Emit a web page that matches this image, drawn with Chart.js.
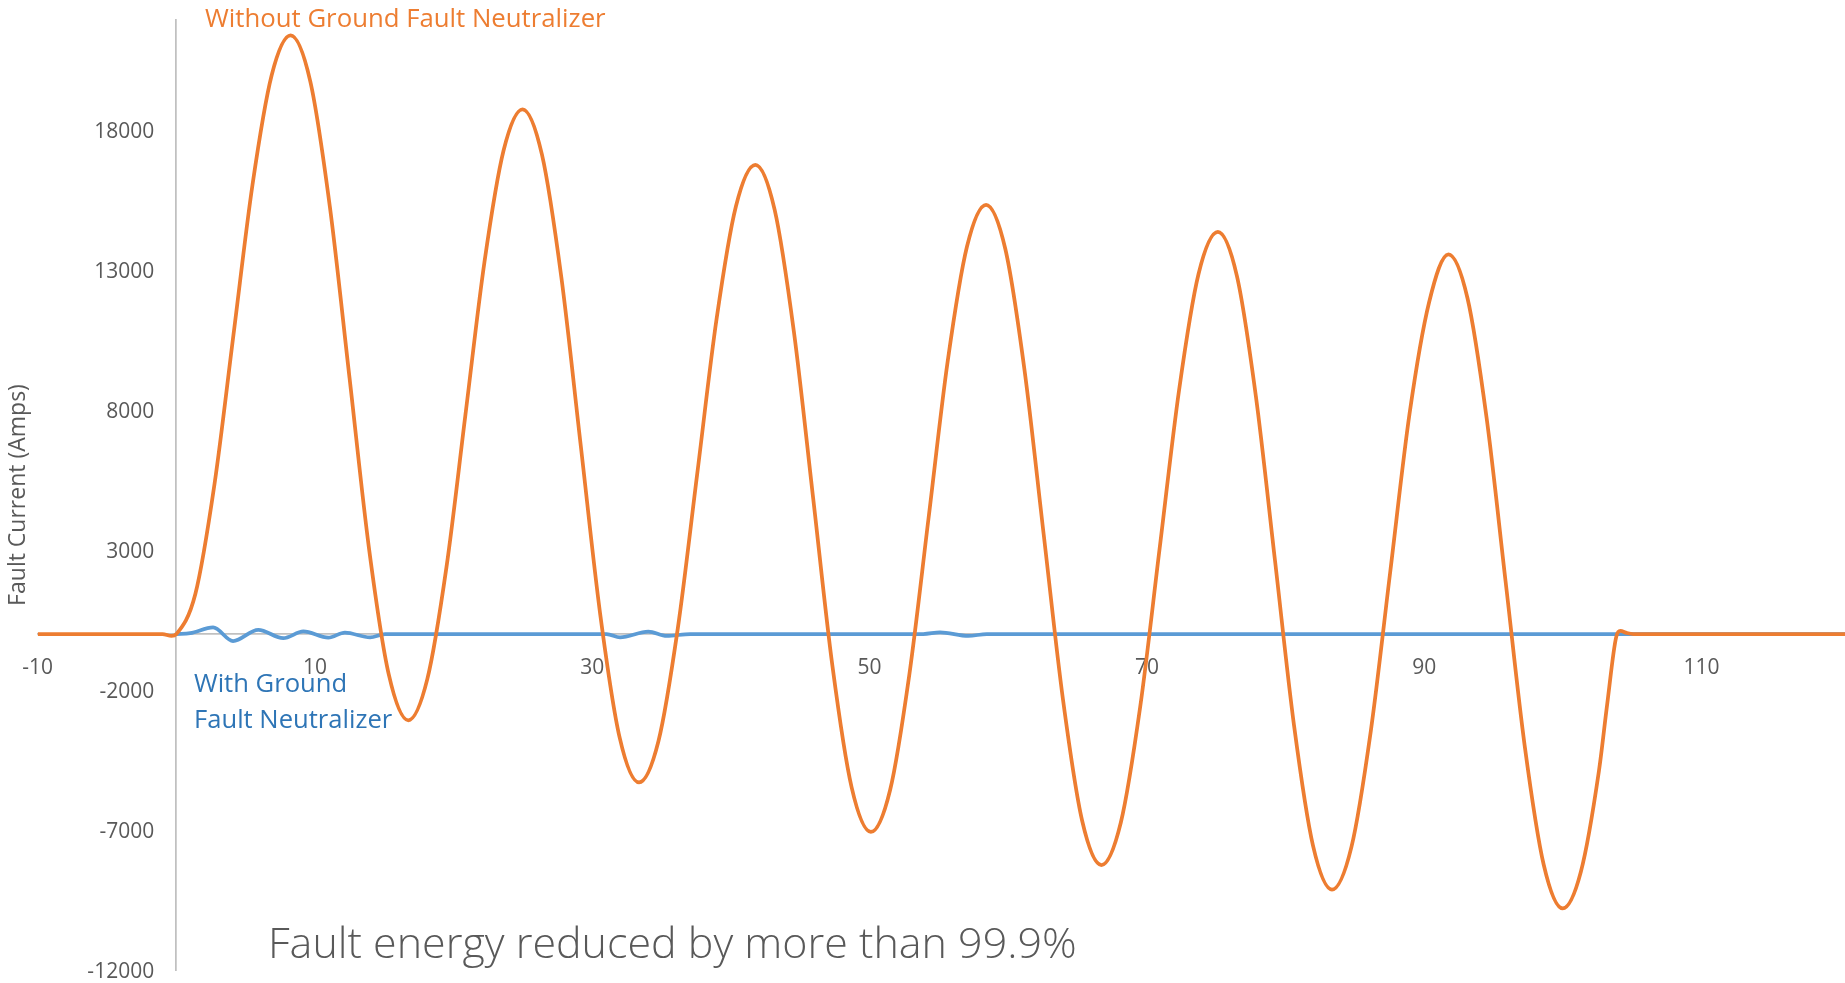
<!DOCTYPE html>
<html>
<head>
<meta charset="utf-8">
<script src="https://cdn.jsdelivr.net/npm/chart.js@4.4.1/dist/chart.umd.min.js"></script>
<style>
  html, body { margin: 0; padding: 0; background: #fff; }
  #wrap { position: relative; width: 1845px; height: 983px; overflow: hidden; }
  .note { position: absolute; font-family: 'Open Sans', sans-serif; white-space: nowrap; line-height: 1; }
  #noteWithout { left: 205px; top: 5px; font-size: 25.75px; color: #ED7D31; }
  #noteWith { left: 194px; top: 665px; font-size: 25.6px; line-height: 35.5px; color: #2E75B6; }
  #noteEnergy { left: 268px; top: 920px; font-size: 43px; font-weight: 300; color: #595959; }
</style>
</head>
<body>
<div id="wrap">
  <canvas id="chart"></canvas>
  <div class="note" id="noteWithout">Without Ground Fault Neutralizer</div>
  <div class="note" id="noteWith">With Ground<br>Fault Neutralizer</div>
  <div class="note" id="noteEnergy">Fault energy reduced by more than 99.9%</div>
</div>
<script>
// time axis (ms) and tick values
const xTicks = [-10, 10, 30, 50, 70, 90, 110];
const yTicks = [-12000, -7000, -2000, 3000, 8000, 13000, 18000];
const xMin = -10, xMax = 120.35;
const yMin = -12000, yMax = 21930;

// fault current without the neutralizer
const withoutX = [-10, -1, -0.35, 0, 1.37, 2.75, 4.12, 5.49, 6.87, 8.24,
  9.66, 11.07, 12.49, 13.90, 15.32, 16.73,
  18.10, 19.48, 20.85, 22.22, 23.60, 24.97,
  26.37, 27.77, 29.17, 30.57, 31.97, 33.37,
  34.77, 36.17, 37.57, 38.96, 40.36, 41.76,
  43.15, 44.54, 45.93, 47.31, 48.70, 50.09,
  51.48, 52.86, 54.25, 55.63, 57.02, 58.40,
  59.79, 61.17, 62.56, 63.95, 65.33, 66.72,
  68.12, 69.52, 70.92, 72.32, 73.72, 75.12,
  76.49, 77.86, 79.24, 80.61, 81.98, 83.35,
  84.75, 86.15, 87.55, 88.95, 90.35, 91.75,
  93.12, 94.50, 95.87, 97.24, 98.62, 99.99,
  101.30, 102.60, 103.20, 103.85, 104.15, 104.60, 105.10, 120.35];
const withoutY = [0, 0, -70, 0, 1430, 5350, 10690, 16040, 19950, 21380,
  19740, 15270, 9150, 3040, -1440, -3080,
  -1610, 2380, 7830, 13280, 17270, 18740,
  17120, 12730, 6720, 710, -3690, -5300,
  -3830, 210, 5730, 11240, 15280, 16760,
  15160, 10800, 4850, -1110, -5470, -7070,
  -5570, -1470, 4130, 9730, 13830, 15330,
  13750, 9440, 3540, -2350, -6670, -8250,
  -6730, -2590, 3060, 8710, 12850, 14360,
  12790, 8490, 2620, -3260, -7560, -9130,
  -7610, -3460, 2220, 7890, 11840, 13560,
  12000, 7720, 1880, -3960, -8240, -9800,
  -8490, -4900, -2500, -100, 110, 40, 0, 0];

// fault current with the neutralizer
const withX = [0, 1.0, 2.65, 4.09, 5.91, 7.71, 9.16, 10.96, 12.16, 13.97, 15.05,
  31.04, 32.0, 34.04, 35.37, 37.06, 53.87, 55.08, 57.12, 58.45, 120.35];
const withY = [0, 30, 236, -250, 150, -150, 90, -130, 50, -120, 0,
  0, -120, 85, -70, 0, 0, 60, -70, 0, 0];

const toPoints = (xs, ys) => xs.map((x, i) => ({x: x, y: ys[i]}));
const textGrey = '#595959';
const axisGrey = '#c0c0c0';
const tickFont = {family: 'Open Sans', size: 21};

const fixTicks = (values) => (scale) => {
    scale.ticks = values.map(v => ({value: v}));
};
const noWidth = (scale) => { scale.width = 0; };
const plainLabel = (value) => String(value);

new Chart(document.getElementById('chart'), {
    type: 'line',
    data: {
        datasets: [
            {
                label: 'Without Ground Fault Neutralizer',
                data: toPoints(withoutX, withoutY),
                borderColor: '#ED7D31',
                borderWidth: 3.75,
                pointRadius: 0,
                cubicInterpolationMode: 'monotone',
                fill: false
            },
            {
                label: 'With Ground Fault Neutralizer',
                data: toPoints(withX, withY),
                borderColor: '#5B9BD5',
                borderWidth: 3.75,
                pointRadius: 0,
                cubicInterpolationMode: 'monotone',
                fill: false
            }
        ]
    },
    options: {
        responsive: true,
        maintainAspectRatio: false,
        animation: false,
        layout: {padding: {left: 0, right: 0, top: 20, bottom: 13}},
        plugins: {legend: {display: false}, tooltip: {enabled: false}},
        scales: {
            x: {
                type: 'linear',
                min: xMin,
                max: xMax,
                position: {y: 0},
                afterBuildTicks: fixTicks(xTicks),
                afterFit: (scale) => { scale.height = 0; },
                grid: {display: false, drawTicks: false},
                border: {color: axisGrey, width: 1.75},
                ticks: {font: tickFont, color: textGrey, padding: 21, maxRotation: 0, autoSkip: false, callback: plainLabel}
            },
            y: {
                type: 'linear',
                axis: 'y',
                min: yMin,
                max: yMax,
                position: {x: 0},
                afterFit: noWidth,
                grid: {display: false, drawTicks: false},
                border: {color: axisGrey, width: 1.75},
                ticks: {display: false}
            },
            yLabels: {
                type: 'linear',
                axis: 'y',
                min: yMin,
                max: yMax,
                position: {x: -1.6},
                afterBuildTicks: fixTicks(yTicks),
                afterFit: noWidth,
                grid: {display: false, drawTicks: false},
                border: {display: false},
                ticks: {font: tickFont, color: textGrey, padding: 0, labelOffset: 2, autoSkip: false, callback: plainLabel}
            },
            yTitle: {
                type: 'linear',
                axis: 'y',
                min: yMin,
                max: yMax,
                position: 'left',
                afterFit: (scale) => { scale.width = 37.7; },
                grid: {display: false, drawTicks: false},
                border: {display: false},
                ticks: {display: false},
                title: {
                    display: true,
                    text: 'Fault Current (Amps)',
                    color: textGrey,
                    font: {family: 'Open Sans', size: 23},
                    padding: {top: 5, bottom: 0}
                }
            }
        }
    }
});
</script>
</body>
</html>
